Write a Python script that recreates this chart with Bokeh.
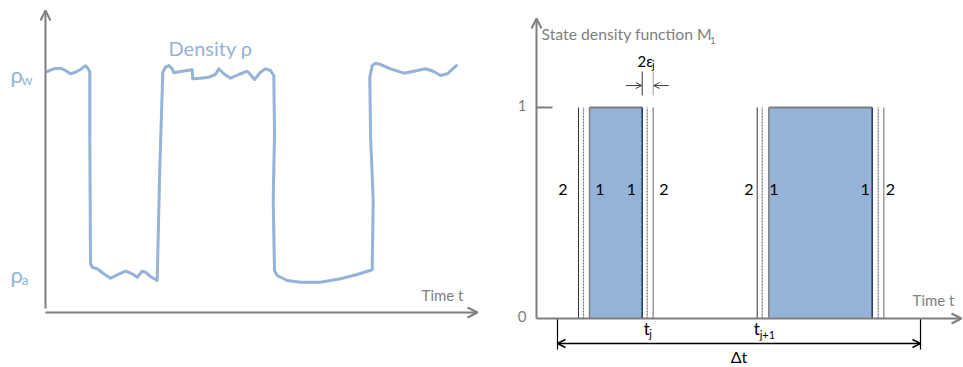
from bokeh.plotting import figure
from bokeh.models import Range1d, Arrow, OpenHead, Label
from bokeh.layouts import row
from bokeh.embed import file_html
from bokeh.resources import INLINE

FONT = "Lato"
BLUE = "#95b3d7"
GRAY = "#7f7f7f"
DARK = "#262626"

# ---------------- left panel: measured density vs time ----------------
time_t = [0.17, 0.83, 1.5, 2.0, 2.5, 3.0, 3.5, 4.0, 4.27, 4.43, 4.43, 4.5, 4.67, 5.17,
          5.83, 6.5, 7.17, 8.0, 8.67, 9.17, 9.67, 10.0, 10.5, 11.17, 11.43, 11.73, 12.0,
          12.33, 12.67, 12.83, 13.5, 14.17, 14.67, 14.73, 15.5, 16.33, 17.0, 17.33, 17.83,
          18.5, 19.33, 20.17, 20.5, 20.9, 21.5, 22.0, 22.5, 22.83, 22.9, 22.77, 22.9, 23.17,
          24.17, 25.5, 27.5, 29.5, 31.17, 32.67, 32.77, 32.5, 32.43, 32.67, 33.0, 33.5, 34.5,
          35.83, 36.83, 38.0, 38.83, 39.5, 40.17, 41.1]
density = [24.1, 24.37, 24.43, 24.2, 23.87, 24.03, 24.3, 24.67, 24.37, 24.03, 17.9, 4.9,
           4.53, 4.37, 3.87, 3.43, 3.77, 4.13, 3.87, 3.53, 4.13, 4.03, 3.6, 3.2, 14.53, 24.03,
           24.53, 24.7, 24.37, 23.97, 24.1, 24.2, 24.27, 23.37, 23.43, 23.53, 23.8, 24.37,
           23.87, 23.43, 23.8, 24.13, 23.8, 23.3, 24.03, 24.37, 24.2, 23.7, 17.87, 11.2, 4.2,
           3.7, 3.2, 3.03, 3.03, 3.37, 3.8, 4.27, 11.2, 17.87, 23.53, 24.7, 24.93, 24.8, 24.37,
           23.93, 24.13, 24.37, 24.1, 23.7, 23.87, 24.7]
rho_ticks = [23.8, 3.8]            # rho_w (water), rho_a (air)
rho_tick_labels = ["ρ", "ρ"]
rho_tick_subs = ["w", "a"]
left_t_max = 43.2
left_rho_max = 30.2

# ---------------- right panel: state density function ----------------
state_start = [5.3, 23.23]
state_end = [10.57, 33.57]
state_value = [1, 1]
zone1_lines = [4.7, 11.07, 22.57, 34.17]     # dashed
zone2_lines = [4.2, 11.67, 22.07, 34.73]     # solid
zone_label_t = [2.65, 6.35, 9.5, 12.75, 21.25, 23.75, 32.87, 35.4]
zone_labels = ["2", "1", "1", "2", "2", "1", "1", "2"]
m_ticks = [0, 1]
m_tick_labels = ["0", "1"]
t_j = 11.07
t_j1 = 22.07
eps_j = 0.55
dt_start, dt_end = 2.1, 38.4
right_t_max = 42.5
right_m_max = 1.422


def lab(p, x, y, text, size, color=DARK, align="left", baseline="middle"):
    p.add_layout(Label(x=x, y=y, text=text, text_font=FONT, text_font_size=size,
                       text_color=color, text_align=align, text_baseline=baseline))


def axis_arrow(p, x0, y0, x1, y1, color=GRAY, width=2, size=10):
    p.add_layout(Arrow(end=OpenHead(size=size, line_color=color, line_width=width),
                       x_start=x0, y_start=y0, x_end=x1, y_end=y1,
                       line_color=color, line_width=width))


common = dict(height=367, output_backend="svg", toolbar_location=None, min_border=0,
              x_axis_location=None, y_axis_location=None)

left = figure(width=500, x_range=Range1d(-4.5, 45.5), y_range=Range1d(-5.5, 31.2), **common)
left.grid.visible = False
left.outline_line_color = None
left.background_fill_color = None

left.line(time_t, density, line_color=BLUE, line_width=3, line_join="round", line_cap="round")
axis_arrow(left, 0, 0.4, 0, left_rho_max)
axis_arrow(left, 0, 0, left_t_max, 0)
for yv, t0, s in zip(rho_ticks, rho_tick_labels, rho_tick_subs):
    lab(left, -3.5, yv, t0, "22px", BLUE, baseline="alphabetic")
    lab(left, -2.4, yv - 0.45, s, "14px", BLUE, baseline="alphabetic")
lab(left, 12.3, 26.5, "Density ρ", "20px", BLUE)
lab(left, 41.8, 1.8, "Time t", "15px", GRAY, align="right")

right = figure(width=463, x_range=Range1d(-3.6, 42.7), y_range=Range1d(-0.2322, 1.5071), **common)
right.grid.visible = False
right.outline_line_color = None
right.background_fill_color = None

right.quad(left=state_start, right=state_end, bottom=0, top=state_value,
           fill_color=BLUE, line_color=None)
right.segment(x0=state_start, y0=state_value, x1=state_end, y1=state_value,
              line_color=GRAY, line_width=2)
right.segment(x0=state_start, y0=0, x1=state_start, y1=state_value,
              line_color=GRAY, line_width=1.5)
right.segment(x0=state_end, y0=0, x1=state_end, y1=state_value,
              line_color="#1f3864", line_width=1.5)
right.segment(x0=zone1_lines, y0=0, x1=zone1_lines, y1=1,
              line_color="#6f6f6f", line_width=1.2, line_dash="2 1")
right.segment(x0=[zone2_lines[0], zone2_lines[2]], y0=0, x1=[zone2_lines[0], zone2_lines[2]], y1=1,
              line_color="#333333", line_width=1)
right.segment(x0=[zone2_lines[1], zone2_lines[3]], y0=0, x1=[zone2_lines[1], zone2_lines[3]], y1=1,
              line_color="#9a9a9a", line_width=1.5)
for xv, tx in zip(zone_label_t, zone_labels):
    lab(right, xv, 0.611, tx, "16px", "#000000", align="center")

# axes
axis_arrow(right, 0, 0, 0, right_m_max)
axis_arrow(right, 0, 0, right_t_max, 0)
right.segment(x0=[0], y0=[1], x1=[1.6], y1=[1], line_color=GRAY, line_width=2)
for mv, ml in zip(m_ticks, m_tick_labels):
    lab(right, -1.0, mv + 0.01, ml, "15px", GRAY, align="right")
lab(right, 0.5, 1.3507, "State density function M", "15.75px", GRAY)
lab(right, 17.35, 1.318, "1", "10px", GRAY)
lab(right, 41.8, 0.09, "Time t", "15px", GRAY, align="right")

# 2 eps_j annotation
edge = state_end[0]
right.segment(x0=[edge, edge + 2 * eps_j], y0=1.057, x1=[edge, edge + 2 * eps_j], y1=1.1706,
              line_color=["#333333", "#9a9a9a"], line_width=1)
axis_arrow(right, edge - 1.65, 1.104, edge - 0.05, 1.104, color="#404040", width=1, size=6)
axis_arrow(right, edge + 2 * eps_j + 1.55, 1.104, edge + 2 * eps_j + 0.05, 1.104,
           color="#404040", width=1, size=6)
lab(right, 10.1, 1.2227, "2ε", "15px", "#000000")
lab(right, 11.55, 1.205, "j", "11px", "#000000")

# t_j labels
lab(right, t_j - 0.35, -0.047, "t", "17px", "#000000")
lab(right, t_j + 0.2, -0.071, "j", "11px", "#000000")
lab(right, t_j1 - 0.35, -0.047, "t", "17px", "#000000")
lab(right, t_j1 + 0.25, -0.076, "j+1", "11px", "#000000")

# delta t
right.segment(x0=[dt_start, dt_end], y0=0, x1=[dt_start, dt_end], y1=-0.147,
              line_color="#000000", line_width=1.2)
right.add_layout(Arrow(start=OpenHead(size=8, line_color="#000000", line_width=1.5),
                       end=OpenHead(size=8, line_color="#000000", line_width=1.5),
                       x_start=dt_start, y_start=-0.1185, x_end=dt_end, y_end=-0.1185,
                       line_color="#000000", line_width=1.5))
lab(right, (dt_start + dt_end) / 2, -0.18, "Δt", "16px", "#000000", align="center")

layout = row(left, right)
open("out.html", "w").write(file_html(layout, INLINE))
